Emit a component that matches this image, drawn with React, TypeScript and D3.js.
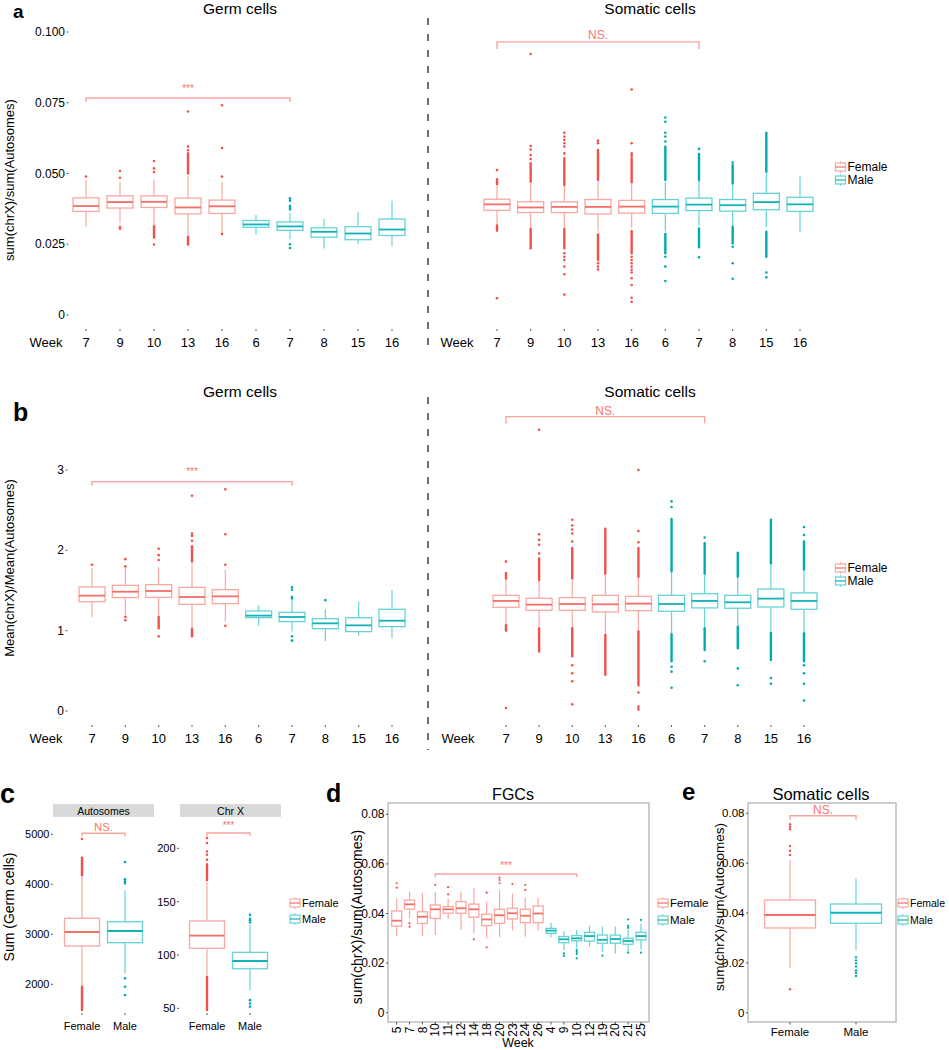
import * as d3 from "d3";

const FONT = "'Liberation Sans', Arial, Helvetica, sans-serif";
const COLORS: Record<string, { box: string; med: string; pt: string }> = {
  F: { box: "#F9A8A2", med: "#F26E66", pt: "#F0524A" },
  M: { box: "#67D3D6", med: "#0FB3B8", pt: "#00AAB0" },
};
const SIG = "#F8766D";
const SIG_LINE = "#F9A39D";

// legend
const legendLabels = ["Female", "Male"];
const legendSex = ["F", "M"];

// ---- panels a & b : weeks ----
const weeksAB = ["7", "9", "10", "13", "16", "6", "7", "8", "15", "16"];
const sexAB = ["F", "F", "F", "F", "F", "M", "M", "M", "M", "M"];

// box stats: [lower whisker, Q1, median, Q3, upper whisker]
// a, germ cells: sum(chrX)/sum(Autosomes)
const germSumRatio = [
  [0.0312, 0.0366, 0.0385, 0.0414, 0.0477],
  [0.0325, 0.0378, 0.0399, 0.0421, 0.047],
  [0.0318, 0.038, 0.04, 0.0421, 0.0479],
  [0.028, 0.0357, 0.038, 0.0413, 0.049],
  [0.029, 0.0359, 0.0384, 0.0406, 0.047],
  [0.0285, 0.031, 0.032, 0.0334, 0.0353],
  [0.0268, 0.0299, 0.0313, 0.0329, 0.036],
  [0.0235, 0.0275, 0.0294, 0.0308, 0.0339],
  [0.0251, 0.0266, 0.0288, 0.0312, 0.0365],
  [0.0243, 0.0281, 0.0302, 0.0339, 0.0404],
];
const germSumOut = [
  [0.0489],
  [0.0509, 0.0485, 0.0312, 0.0305],
  [0.0544, 0.0518, 0.0505, 0.0249],
  [0.0719, 0.0595, 0.0582],
  [0.0741, 0.059, 0.0489, 0.0286],
  [],
  [0.0412, 0.0404, 0.025, 0.0237],
  [],
  [],
  [],
];
const germSumRuns = [
  [],
  [],
  [[0.0274, 0.0314]],
  [[0.05, 0.0572], [0.0249, 0.0276]],
  [],
  [],
  [[0.0373, 0.0386]],
  [],
  [],
  [],
];

// a, somatic cells
const somaSumRatio = [
  [0.032, 0.037, 0.0391, 0.0409, 0.0455],
  [0.031, 0.0362, 0.038, 0.04, 0.0465],
  [0.031, 0.0362, 0.0382, 0.04, 0.0455],
  [0.0295, 0.0357, 0.0382, 0.0408, 0.047],
  [0.031, 0.036, 0.0383, 0.0405, 0.0465],
  [0.0295, 0.0359, 0.0383, 0.0408, 0.047],
  [0.0315, 0.0369, 0.039, 0.0413, 0.0475],
  [0.0315, 0.0367, 0.0388, 0.0408, 0.0465],
  [0.031, 0.0372, 0.0399, 0.043, 0.05],
  [0.0294, 0.0366, 0.0391, 0.0416, 0.0489],
];
const somaSumOut = [
  [0.0512, 0.0059],
  [0.0922, 0.0597, 0.0585, 0.0565, 0.0551],
  [0.0644, 0.0631, 0.0619, 0.0607, 0.0595, 0.0571, 0.0218, 0.0206, 0.0194, 0.0171, 0.0144, 0.0072],
  [0.0616, 0.0607, 0.0183, 0.0171, 0.0161],
  [0.0797, 0.0607, 0.0571, 0.0563, 0.0206, 0.0194, 0.0183, 0.0171, 0.016, 0.015, 0.013, 0.0106, 0.0061, 0.0047],
  [0.0698, 0.0683, 0.0644, 0.0631, 0.0613, 0.0206, 0.0171, 0.012],
  [0.0587, 0.0204],
  [0.0539, 0.0241, 0.0183, 0.0128],
  [0.015, 0.0133],
  [],
];
const somaSumRuns = [
  [[0.0462, 0.048], [0.0298, 0.0316]],
  [[0.0471, 0.0536], [0.0236, 0.0305]],
  [[0.0459, 0.0554], [0.0236, 0.0305]],
  [[0.0477, 0.0583], [0.0194, 0.0285]],
  [[0.0469, 0.0554], [0.0218, 0.0297]],
  [[0.0477, 0.0595], [0.0218, 0.0286]],
  [[0.0477, 0.0569], [0.0239, 0.0306]],
  [[0.0465, 0.053], [0.0253, 0.0312]],
  [[0.0506, 0.0644], [0.0206, 0.0294]],
  [],
];

// b, germ cells: Mean(chrX)/Mean(Autosomes)
const germMeanRatio = [
  [1.166, 1.361, 1.436, 1.544, 1.776],
  [1.19, 1.411, 1.485, 1.564, 1.78],
  [1.18, 1.415, 1.494, 1.573, 1.79],
  [1.03, 1.328, 1.419, 1.539, 1.84],
  [1.11, 1.336, 1.427, 1.51, 1.755],
  [1.062, 1.162, 1.187, 1.245, 1.311],
  [0.99, 1.112, 1.17, 1.228, 1.38],
  [0.871, 1.025, 1.091, 1.149, 1.266],
  [0.938, 0.988, 1.066, 1.162, 1.357],
  [0.905, 1.05, 1.124, 1.266, 1.506],
];
const germMeanOut = [
  [1.82],
  [1.89, 1.8, 1.17, 1.13],
  [2.02, 1.94, 1.88, 0.93],
  [2.68, 2.21, 2.18, 2.12, 0.93],
  [2.76, 2.2, 1.82, 1.06],
  [],
  [1.54, 1.51, 1.42, 1.4, 0.93, 0.876],
  [1.38],
  [],
  [],
];
const germMeanRuns = [
  [],
  [],
  [[1.03, 1.17]],
  [[1.86, 2.05], [0.95, 1.02]],
  [],
  [],
  [],
  [],
  [],
  [],
];

// b, somatic cells
const somaMeanRatio = [
  [1.09, 1.291, 1.37, 1.44, 1.64],
  [1.05, 1.254, 1.324, 1.403, 1.62],
  [1.05, 1.254, 1.332, 1.411, 1.62],
  [0.97, 1.233, 1.328, 1.44, 1.7],
  [1.0, 1.249, 1.337, 1.428, 1.66],
  [0.97, 1.241, 1.332, 1.44, 1.73],
  [1.05, 1.283, 1.37, 1.461, 1.7],
  [1.06, 1.279, 1.353, 1.44, 1.66],
  [0.99, 1.295, 1.399, 1.519, 1.83],
  [0.98, 1.266, 1.37, 1.47, 1.75],
];
const somaMeanOut = [
  [1.86, 0.037],
  [3.5, 2.2, 2.13, 2.07, 1.96],
  [2.38, 2.31, 2.26, 2.21, 2.11, 0.57, 0.47, 0.37, 0.083],
  [],
  [3.0, 2.24, 2.1, 0.23, 0.054, 0.02],
  [2.61, 2.54, 0.55, 0.49, 0.29],
  [2.16, 0.62],
  [0.53, 0.32],
  [0.41, 0.34],
  [2.29, 2.19, 0.57, 0.47, 0.34, 0.13],
];
const somaMeanRuns = [
  [[1.65, 1.72], [1.0, 1.07]],
  [[1.63, 1.9], [0.74, 1.03]],
  [[1.65, 2.03], [0.68, 1.03]],
  [[1.71, 2.27], [0.45, 0.95]],
  [[1.67, 2.03], [0.32, 0.99]],
  [[1.74, 2.39], [0.62, 0.955]],
  [[1.71, 2.09], [0.76, 1.03]],
  [[1.67, 1.97], [0.78, 1.05]],
  [[1.84, 2.38], [0.635, 0.975]],
  [[1.76, 2.11], [0.62, 0.967]],
];

// ---- panel c ----
const sexC = ["F", "M"];
const sexLabels = ["Female", "Male"];
const autoSum = [
  [1960, 2766, 3046, 3320, 4150],
  [2220, 2832, 3066, 3252, 3886],
];
const autoSumOut = [[4906], [4446, 4100, 4060, 4020, 2120, 1952, 1786]];
const autoSumRuns = [[[4180, 4532], [1486, 1950]], []];
const chrXSum = [
  [81, 106.3, 118.1, 131.9, 168],
  [67, 87.1, 94.4, 102.5, 128],
];
const chrXSumOut = [[209.6, 204.9, 197, 193.9, 189.2], [137.6, 134, 132.5, 130.5, 57.7, 54.6, 51.5]];
const chrXSumRuns = [[[170, 185], [48.4, 79.6]], []];

// ---- panel d : FGCs ----
const weeksD = ["5", "7", "8", "10", "11", "12", "14", "18", "20", "23", "24", "26", "4", "9", "10", "12", "19", "20", "21", "25"];
const sexD = ["F", "F", "F", "F", "F", "F", "F", "F", "F", "F", "F", "F", "M", "M", "M", "M", "M", "M", "M", "M"];
const fgcRatio = [
  [0.0309, 0.0349, 0.0371, 0.041, 0.0461],
  [0.038, 0.0418, 0.0437, 0.0454, 0.0488],
  [0.0309, 0.036, 0.0387, 0.0407, 0.0481],
  [0.0313, 0.038, 0.0417, 0.0434, 0.0488],
  [0.0378, 0.0401, 0.0417, 0.0428, 0.046],
  [0.0333, 0.0401, 0.0421, 0.0448, 0.0488],
  [0.032, 0.0385, 0.0417, 0.0438, 0.0504],
  [0.03, 0.0351, 0.0376, 0.0397, 0.0448],
  [0.0304, 0.036, 0.0393, 0.0417, 0.0495],
  [0.0331, 0.0378, 0.0401, 0.0421, 0.0481],
  [0.0306, 0.0363, 0.0391, 0.0417, 0.0464],
  [0.033, 0.0363, 0.04, 0.043, 0.0464],
  [0.0304, 0.032, 0.0331, 0.034, 0.0363],
  [0.0253, 0.0282, 0.0296, 0.0307, 0.0327],
  [0.026, 0.029, 0.03, 0.0311, 0.0333],
  [0.0266, 0.0289, 0.0309, 0.0324, 0.035],
  [0.0246, 0.028, 0.0294, 0.0313, 0.0347],
  [0.0239, 0.028, 0.0297, 0.0313, 0.0347],
  [0.0246, 0.0276, 0.0289, 0.03, 0.0333],
  [0.0255, 0.0293, 0.0309, 0.0324, 0.0358],
];
const fgcOut = [
  [0.0522, 0.0504],
  [0.036, 0.0347],
  [],
  [0.0515],
  [0.0506, 0.0477],
  [],
  [0.0296],
  [0.0484, 0.0264],
  [0.0545, 0.0535, 0.0522],
  [0.0519],
  [0.0515, 0.0495],
  [],
  [],
  [0.0239, 0.0229],
  [0.0253, 0.0245, 0.0237, 0.0219],
  [],
  [0.023],
  [],
  [0.0376, 0.035, 0.0342, 0.0242],
  [0.0374, 0.0242],
];

// ---- panel e : somatic cells ----
const somaE = [
  [0.0178, 0.034, 0.0392, 0.0452, 0.0613],
  [0.0251, 0.0359, 0.0401, 0.0436, 0.0539],
];
const somaEOut = [
  [0.0756, 0.0746, 0.0736, 0.0669, 0.065, 0.0633, 0.0094],
  [0.0222, 0.021, 0.0198, 0.0185, 0.017, 0.016, 0.0147],
];

// ---- axis ticks ----
const ticksA = [0, 0.025, 0.05, 0.075, 0.1];
const tickLabelsA = ["0", "0.025", "0.050", "0.075", "0.100"];
const ticksB = [0, 1, 2, 3];
const tickLabelsB = ["0", "1", "2", "3"];
const ticksCL = [2000, 3000, 4000, 5000];
const ticksCR = [50, 100, 150, 200];
const ticksDE = [0, 0.02, 0.04, 0.06, 0.08];
const tickLabelsDE = ["0", "0.02", "0.04", "0.06", "0.08"];

type Scale = (v: number) => number;

function Boxes({ x, y, w, stats, outs, runs, sexes, r = 1.3 }: any) {
  return (
    <g>
      {stats.map((s: number[], i: number) => {
        const c = COLORS[sexes[i]];
        const cx = x(i);
        const [lo, q1, md, q3, hi] = s;
        return (
          <g key={i}>
            <line x1={cx} x2={cx} y1={y(hi)} y2={y(q3)} stroke={c.box} strokeWidth={1.2} />
            <line x1={cx} x2={cx} y1={y(q1)} y2={y(lo)} stroke={c.box} strokeWidth={1.2} />
            <rect x={cx - w / 2} y={y(q3)} width={w} height={y(q1) - y(q3)} fill="white" stroke={c.box} strokeWidth={1.3} />
            <line x1={cx - w / 2} x2={cx + w / 2} y1={y(md)} y2={y(md)} stroke={c.med} strokeWidth={1.8} />
            {(runs ? runs[i] : []).map((rr: number[], j: number) => (
              <line key={"r" + j} x1={cx} x2={cx} y1={y(rr[0])} y2={y(rr[1])} stroke={c.pt} strokeWidth={2.4} strokeLinecap="round" />
            ))}
            {outs[i].map((v: number, j: number) => (
              <circle key={"o" + j} cx={cx} cy={y(v)} r={r} fill={c.pt} />
            ))}
          </g>
        );
      })}
    </g>
  );
}

function YTicks({ y, values, labels, x, size }: { y: Scale; values: number[]; labels: string[]; x: number; size: number }) {
  return (
    <g>
      {values.map((v, i) => (
        <g key={i}>
          <text x={x} y={y(v)} textAnchor="end" dominantBaseline="central" fontSize={size}>
            {labels[i]}
          </text>
          <line x1={x + 1.5} x2={x + 3.5} y1={y(v)} y2={y(v)} stroke="#555" strokeWidth={1} />
        </g>
      ))}
    </g>
  );
}

function XLabels({ x, labels, y, tickY, size }: any) {
  return (
    <g>
      {labels.map((l: string, i: number) => (
        <g key={i}>
          <line x1={x(i)} x2={x(i)} y1={tickY} y2={tickY + 2} stroke="#555" strokeWidth={1} />
          <text x={x(i)} y={y} textAnchor="middle" fontSize={size}>
            {l}
          </text>
        </g>
      ))}
    </g>
  );
}

function Bracket({ x1, x2, y, drop, label, labelY, size }: any) {
  return (
    <g>
      <path d={`M${x1},${y + drop}V${y}H${x2}V${y + drop}`} fill="none" stroke={SIG_LINE} strokeWidth={1.4} />
      <text x={(x1 + x2) / 2} y={labelY} textAnchor="middle" dominantBaseline="central" fontSize={size} fill={SIG}>
        {label}
      </text>
    </g>
  );
}

function Legend({ x, y, gap, size }: { x: number; y: number; gap: number; size: number }) {
  return (
    <g>
      {legendLabels.map((lab, i) => {
        const c = COLORS[legendSex[i]];
        const cy = y + i * gap;
        return (
          <g key={lab}>
            <line x1={x} x2={x} y1={cy - 6} y2={cy + 6} stroke={c.box} strokeWidth={1} />
            <rect x={x - 5} y={cy - 4} width={10} height={8} fill="white" stroke={c.box} strokeWidth={1.2} />
            <line x1={x - 5} x2={x + 5} y1={cy} y2={cy} stroke={c.med} strokeWidth={1.2} />
            <text x={x + 7} y={cy} dominantBaseline="central" fontSize={size}>
              {lab}
            </text>
          </g>
        );
      })}
    </g>
  );
}

function YTitle({ x, y, size, children }: any) {
  return (
    <text transform={`translate(${x},${y}) rotate(-90)`} textAnchor="middle" fontSize={size}>
      {children}
    </text>
  );
}

export default function App() {
  const idx10 = d3.range(10);
  const yA = d3.scaleLinear().domain([0, 0.1]).range([315, 32]);
  const xAL = d3.scalePoint<number>().domain(idx10).range([86, 392]);
  const xAR = d3.scalePoint<number>().domain(idx10).range([497, 800]);
  const yB = d3.scaleLinear().domain([0, 3]).range([711, 470]);
  const xBL = d3.scalePoint<number>().domain(idx10).range([92, 392]);
  const xBR = d3.scalePoint<number>().domain(idx10).range([506, 804]);
  const yCL = d3.scaleLinear().domain([2000, 5000]).range([984.3, 834.3]);
  const yCR = d3.scaleLinear().domain([100, 200]).range([955, 848.3]);
  const xCL = d3.scalePoint<number>().domain([0, 1]).range([82, 125]);
  const xCR = d3.scalePoint<number>().domain([0, 1]).range([207, 250]);
  const yD = d3.scaleLinear().domain([0, 0.08]).range([1012.7, 814.3]);
  const xD = d3.scalePoint<number>().domain(d3.range(20)).range([396.7, 641]);
  const yE = d3.scaleLinear().domain([0, 0.08]).range([1012.7, 813.3]);
  const xE = d3.scalePoint<number>().domain([0, 1]).range([790, 856]);

  const xa = (s: any) => (i: number) => s(i) as number;

  return (
    <svg width={949} height={1050} style={{ position: "absolute", left: 0, top: 0, background: "white" }} fontFamily={FONT}>
      <rect width={949} height={1050} fill="white" />
      {/* divider */}
      <line x1={428} x2={428} y1={18} y2={352} stroke="#4d4d4d" strokeWidth={1.6} strokeDasharray="7 9" />
      <line x1={428} x2={428} y1={397} y2={750} stroke="#4d4d4d" strokeWidth={1.6} strokeDasharray="7 9" />

      {/* ---------- panel a ---------- */}
      <text x={13} y={18} fontSize={19} fontWeight="bold">a</text>
      <text x={240} y={14} fontSize={15.5} textAnchor="middle">Germ cells</text>
      <text x={650} y={14} fontSize={15.5} textAnchor="middle">Somatic cells</text>
      <YTitle x={14} y={180} size={13}>sum(chrX)/sum(Autosomes)</YTitle>
      <YTicks y={yA} values={ticksA} labels={tickLabelsA} x={65} size={12} />
      <Boxes x={xa(xAL)} y={yA} w={26} stats={germSumRatio} outs={germSumOut} runs={germSumRuns} sexes={sexAB} />
      <Boxes x={xa(xAR)} y={yA} w={26} stats={somaSumRatio} outs={somaSumOut} runs={somaSumRuns} sexes={sexAB} />
      <Bracket x1={xAL(0)} x2={xAL(6)} y={yA(0.0767)} drop={4} label="***" labelY={yA(0.08)} size={10} />
      <Bracket x1={xAR(0)} x2={xAR(6)} y={yA(0.0965)} drop={7} label="NS." labelY={yA(0.099)} size={12} />
      <text x={46} y={347} fontSize={13} textAnchor="middle">Week</text>
      <text x={457} y={347} fontSize={13} textAnchor="middle">Week</text>
      <XLabels x={xa(xAL)} labels={weeksAB} y={347} tickY={329} size={13} />
      <XLabels x={xa(xAR)} labels={weeksAB} y={347} tickY={329} size={13} />
      <Legend x={840.5} y={167} gap={13} size={12} />

      {/* ---------- panel b ---------- */}
      <text x={13} y={420.5} fontSize={25} fontWeight="bold">b</text>
      <text x={240} y={396.5} fontSize={15.5} textAnchor="middle">Germ cells</text>
      <text x={650} y={396.5} fontSize={15.5} textAnchor="middle">Somatic cells</text>
      <YTitle x={14} y={568} size={13}>Mean(chrX)/Mean(Autosomes)</YTitle>
      <YTicks y={yB} values={ticksB} labels={tickLabelsB} x={64} size={12} />
      <Boxes x={xa(xBL)} y={yB} w={26} stats={germMeanRatio} outs={germMeanOut} runs={germMeanRuns} sexes={sexAB} />
      <Boxes x={xa(xBR)} y={yB} w={26} stats={somaMeanRatio} outs={somaMeanOut} runs={somaMeanRuns} sexes={sexAB} />
      <Bracket x1={xBL(0)} x2={xBL(6)} y={yB(2.855)} drop={4} label="***" labelY={yB(2.98)} size={10} />
      <Bracket x1={xBR(0)} x2={xBR(6)} y={yB(3.665)} drop={7} label="NS." labelY={yB(3.74)} size={12} />
      <text x={46} y={743} fontSize={13} textAnchor="middle">Week</text>
      <text x={458} y={743} fontSize={13} textAnchor="middle">Week</text>
      <XLabels x={xa(xBL)} labels={weeksAB} y={743} tickY={725} size={13} />
      <XLabels x={xa(xBR)} labels={weeksAB} y={743} tickY={725} size={13} />
      <Legend x={840.5} y={568} gap={13} size={12} />

      {/* ---------- panel c ---------- */}
      <text x={0} y={803} fontSize={27} fontWeight="bold">c</text>
      <rect x={53} y={804} width={101} height={13} fill="#D9D9D9" />
      <rect x={180} y={804} width={101} height={13} fill="#D9D9D9" />
      <text x={103.5} y={811} fontSize={10.5} textAnchor="middle" dominantBaseline="central">Autosomes</text>
      <text x={230.5} y={811} fontSize={10.5} textAnchor="middle" dominantBaseline="central">Chr X</text>
      <YTitle x={14} y={907} size={14}>Sum (Germ cells)</YTitle>
      <YTicks y={yCL} values={ticksCL} labels={ticksCL.map(String)} x={49.5} size={11} />
      <YTicks y={yCR} values={ticksCR} labels={ticksCR.map(String)} x={175.5} size={11} />
      <Boxes x={xa(xCL)} y={yCL} w={35} stats={autoSum} outs={autoSumOut} runs={autoSumRuns} sexes={sexC} />
      <Boxes x={xa(xCR)} y={yCR} w={35} stats={chrXSum} outs={chrXSumOut} runs={chrXSumRuns} sexes={sexC} />
      <Bracket x1={xCL(0)} x2={xCL(1)} y={yCL(5020)} drop={3} label="NS." labelY={827} size={11.5} />
      <Bracket x1={xCR(0)} x2={xCR(1)} y={yCR(214.3)} drop={3} label="***" labelY={825} size={10} />
      <XLabels x={xa(xCL)} labels={sexLabels} y={1030} tickY={1013} size={11} />
      <XLabels x={xa(xCR)} labels={sexLabels} y={1030} tickY={1013} size={11} />
      <Legend x={295} y={903} gap={16} size={11} />

      {/* ---------- panel d ---------- */}
      <text x={326} y={802} fontSize={25} fontWeight="bold">d</text>
      <text x={513} y={800} fontSize={16} textAnchor="middle">FGCs</text>
      <rect x={388} y={803} width={261} height={219} fill="white" stroke="#BDBDBD" strokeWidth={1.5} />
      <YTitle x={362} y={917} size={14}>sum(chrX)/sum(Autosomes)</YTitle>
      <YTicks y={yD} values={ticksDE} labels={tickLabelsDE} x={384.5} size={12} />
      <Boxes x={xa(xD)} y={yD} w={10} stats={fgcRatio} outs={fgcOut} sexes={sexD} r={1.1} />
      <Bracket x1={xD(3)} x2={xD(14)} y={yD(0.0559)} drop={3} label="***" labelY={865} size={10} />
      {weeksD.map((w, i) => (
        <g key={i}>
          <line x1={xD(i)} x2={xD(i)} y1={1022} y2={1024.5} stroke="#555" strokeWidth={1} />
          <text transform={`translate(${(xD(i) as number) + 4.2},${1030}) rotate(-90)`} textAnchor="middle" fontSize={12}>
            {w}
          </text>
        </g>
      ))}
      <text x={518} y={1046.5} fontSize={12.5} textAnchor="middle">Week</text>
      <Legend x={663} y={903} gap={17} size={11.5} />

      {/* ---------- panel e ---------- */}
      <text x={682} y={800} fontSize={24} fontWeight="bold">e</text>
      <text x={821} y={800} fontSize={16.5} textAnchor="middle">Somatic cells</text>
      <rect x={748} y={803} width={148} height={219} fill="white" stroke="#BDBDBD" strokeWidth={1.5} />
      <YTitle x={724} y={907} size={13.5}>sum(chrX)/sum(Autosomes)</YTitle>
      <YTicks y={yE} values={ticksDE} labels={tickLabelsDE} x={744.5} size={11.5} />
      <Boxes x={xa(xE)} y={yE} w={51} stats={somaE} outs={somaEOut} sexes={sexC} r={1.2} />
      <Bracket x1={xE(0)} x2={xE(1)} y={yE(0.079)} drop={4} label="NS." labelY={810} size={12} />
      {sexLabels.map((l, i) => (
        <g key={i}>
          <line x1={xE(i)} x2={xE(i)} y1={1022} y2={1024.5} stroke="#555" strokeWidth={1} />
          <text x={xE(i)} y={1036} textAnchor="middle" fontSize={11.5}>{l}</text>
        </g>
      ))}
      <Legend x={903} y={903} gap={17} size={10.5} />
    </svg>
  );
}
